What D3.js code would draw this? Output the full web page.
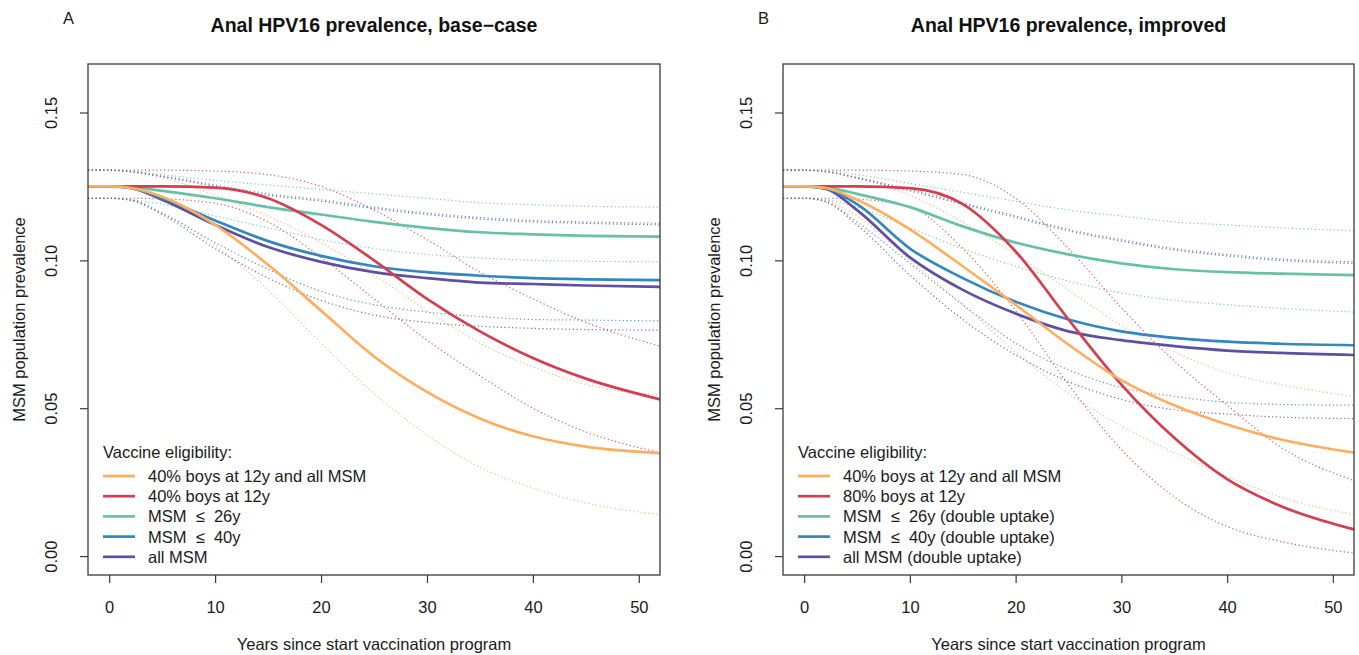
<!DOCTYPE html>
<html>
<head>
<meta charset="utf-8">
<script src="https://cdn.jsdelivr.net/npm/d3@7"></script>
<style>
  body { margin: 0; background: #fff; }
  svg { display: block; font-family: "Liberation Sans", Arial, Helvetica, sans-serif; }
  .tick-label, .axis-title, .legend-text, .panel-letter { font-size: 16.5px; fill: #1a1a1a; }
  .panel-title { font-size: 19.5px; font-weight: bold; fill: #111; }
  .frame { fill: none; stroke: #3a3a3a; stroke-width: 1.3; }
  .tick line { stroke: #3a3a3a; stroke-width: 1.2; }
  .band-line { fill: none; stroke-width: 1.2; stroke-dasharray: 1.2 2.6; stroke-opacity: 0.85; }
  .mid-line { fill: none; stroke-width: 2.7; }
</style>
</head>
<body>
<div id="chart"></div>
<script>
// time grid (years since start) and axis ticks
const years = [-2, 0, 2, 5, 10, 15, 20, 25, 30, 35, 40, 45, 52];
const xTicks = [0, 10, 20, 30, 40, 50];
const yTicks = [0, 0.05, 0.1, 0.15];

// series order: orange, red, green, blue, purple
const baseLabels = [
  "40% boys at 12y and all MSM",
  "40% boys at 12y",
  "MSM  \u2264  26y",
  "MSM  \u2264  40y",
  "all MSM",
];
const improvedLabels = [
  "40% boys at 12y and all MSM",
  "80% boys at 12y",
  "MSM  \u2264  26y (double uptake)",
  "MSM  \u2264  40y (double uptake)",
  "all MSM (double uptake)",
];

const baseMid = [
  [0.125, 0.125, 0.1245, 0.1215, 0.112, 0.0985, 0.083, 0.0675, 0.0555, 0.0465, 0.0405, 0.037, 0.0348],
  [0.125, 0.125, 0.125, 0.125, 0.1246, 0.121, 0.112, 0.100, 0.087, 0.076, 0.067, 0.060, 0.053],
  [0.125, 0.125, 0.1248, 0.1235, 0.121, 0.118, 0.1155, 0.113, 0.111, 0.1095, 0.1088, 0.1083, 0.108],
  [0.125, 0.125, 0.1245, 0.121, 0.1135, 0.1065, 0.1015, 0.098, 0.096, 0.0948, 0.094, 0.0936, 0.0933],
  [0.125, 0.125, 0.1245, 0.1205, 0.112, 0.1045, 0.0995, 0.096, 0.094, 0.0925, 0.092, 0.0915, 0.091],
];
const baseUpper = [
  [0.1305, 0.1305, 0.130, 0.128, 0.122, 0.115, 0.106, 0.095, 0.083, 0.072, 0.064, 0.058, 0.0545],
  [0.1305, 0.1305, 0.1305, 0.1305, 0.1302, 0.129, 0.125, 0.117, 0.107, 0.096, 0.087, 0.079, 0.071],
  [0.1305, 0.1305, 0.1303, 0.129, 0.127, 0.1255, 0.124, 0.1225, 0.121, 0.1195, 0.1188, 0.1183, 0.118],
  [0.1305, 0.1305, 0.130, 0.1285, 0.1255, 0.1225, 0.1205, 0.118, 0.116, 0.1145, 0.1135, 0.113, 0.1125],
  [0.1305, 0.1305, 0.130, 0.1283, 0.125, 0.122, 0.120, 0.1175, 0.1155, 0.114, 0.113, 0.1125, 0.112],
];
const baseLower = [
  [0.121, 0.121, 0.1205, 0.116, 0.105, 0.090, 0.072, 0.055, 0.041, 0.030, 0.023, 0.018, 0.014],
  [0.121, 0.121, 0.121, 0.1208, 0.1193, 0.113, 0.101, 0.087, 0.073, 0.061, 0.050, 0.042, 0.035],
  [0.121, 0.121, 0.1205, 0.119, 0.115, 0.111, 0.107, 0.104, 0.102, 0.1008, 0.100, 0.0997, 0.0995],
  [0.121, 0.121, 0.1205, 0.116, 0.106, 0.097, 0.0895, 0.085, 0.0825, 0.081, 0.080, 0.0798, 0.0795],
  [0.121, 0.121, 0.1203, 0.1155, 0.104, 0.094, 0.0865, 0.0815, 0.079, 0.0777, 0.077, 0.0766, 0.0764],
];

const improvedMid = [
  [0.125, 0.125, 0.1245, 0.1205, 0.1105, 0.098, 0.085, 0.0715, 0.0595, 0.051, 0.0445, 0.0395, 0.035],
  [0.125, 0.125, 0.125, 0.125, 0.1244, 0.119, 0.103, 0.080, 0.058, 0.040, 0.026, 0.017, 0.009],
  [0.125, 0.125, 0.1247, 0.1225, 0.118, 0.1115, 0.106, 0.102, 0.099, 0.097, 0.096, 0.0955, 0.095],
  [0.125, 0.125, 0.1243, 0.119, 0.104, 0.094, 0.086, 0.080, 0.076, 0.0738, 0.0725, 0.0718, 0.0713],
  [0.125, 0.125, 0.1242, 0.117, 0.101, 0.090, 0.082, 0.076, 0.073, 0.071, 0.0695, 0.0687, 0.068],
];
const improvedUpper = [
  [0.1305, 0.1305, 0.130, 0.128, 0.122, 0.113, 0.102, 0.090, 0.078, 0.069, 0.062, 0.058, 0.054],
  [0.1305, 0.1305, 0.1305, 0.1305, 0.1302, 0.129, 0.121, 0.104, 0.084, 0.066, 0.051, 0.037, 0.0255],
  [0.1305, 0.1305, 0.1303, 0.129, 0.126, 0.123, 0.120, 0.117, 0.115, 0.113, 0.112, 0.111, 0.110],
  [0.1305, 0.1305, 0.130, 0.128, 0.124, 0.1195, 0.115, 0.1105, 0.107, 0.104, 0.102, 0.1005, 0.0995],
  [0.1305, 0.1305, 0.130, 0.1278, 0.1235, 0.119, 0.1145, 0.110, 0.1065, 0.1035, 0.1015, 0.100, 0.099],
];
const improvedLower = [
  [0.121, 0.121, 0.1203, 0.115, 0.100, 0.085, 0.069, 0.055, 0.044, 0.035, 0.027, 0.020, 0.014],
  [0.121, 0.121, 0.121, 0.1207, 0.118, 0.104, 0.083, 0.058, 0.036, 0.020, 0.010, 0.005, 0.001],
  [0.121, 0.121, 0.1205, 0.118, 0.111, 0.104, 0.098, 0.093, 0.089, 0.0865, 0.085, 0.0838, 0.0825],
  [0.121, 0.121, 0.120, 0.113, 0.099, 0.085, 0.072, 0.063, 0.057, 0.054, 0.052, 0.0513, 0.051],
  [0.121, 0.121, 0.1198, 0.112, 0.095, 0.080, 0.068, 0.059, 0.053, 0.0495, 0.048, 0.047, 0.0465],
];

const colors = ["#FDAE61", "#D53E4F", "#66C2A5", "#3288BD", "#5E4FA2"];

class PrevalencePanel {
  constructor({ svg, id, left, right, top, bottom, letter, title, labels, mid, upper, lower }) {
    this.svg = svg;
    this.id = id;
    this.box = { left, right, top, bottom };
    this.letter = letter;
    this.title = title;
    this.labels = labels;
    this.mid = mid;
    this.upper = upper;
    this.lower = lower;
    this.render();
  }

  render() {
    const { left, right, top, bottom } = this.box;
    const x = d3.scaleLinear().domain([-2, 52]).range([left, right]);
    // R style 4% padding around 0..0.16
    const y = d3.scaleLinear().domain([-0.0064, 0.1664]).range([bottom, top]);
    // monotone: no bumps where a flat start meets the drop
    const line = d3
      .line()
      .x((d) => x(d[0]))
      .y((d) => y(d[1]))
      .curve(d3.curveMonotoneX);
    const toPts = (vals) => vals.map((v, i) => [years[i], v]);

    const g = this.svg.append("g");

    g.append("clipPath")
      .attr("id", `clip-${this.id}`)
      .append("rect")
      .attr("x", left)
      .attr("y", top)
      .attr("width", right - left)
      .attr("height", bottom - top);

    const plot = g.append("g").attr("clip-path", `url(#clip-${this.id})`);

    // dotted uncertainty bounds
    const bands = [];
    this.upper.forEach((vals, i) => bands.push({ vals, i }));
    this.lower.forEach((vals, i) => bands.push({ vals, i }));
    plot
      .selectAll(".band-line")
      .data(bands)
      .join("path")
      .attr("class", "band-line")
      .attr("stroke", (d) => colors[d.i])
      .attr("d", (d) => line(toPts(d.vals)));

    // main lines, orange drawn last
    const mids = this.mid.map((vals, i) => ({ vals, i })).reverse();
    plot
      .selectAll(".mid-line")
      .data(mids)
      .join("path")
      .attr("class", "mid-line")
      .attr("stroke", (d) => colors[d.i])
      .attr("d", (d) => line(toPts(d.vals)));

    g.append("rect")
      .attr("class", "frame")
      .attr("x", left)
      .attr("y", top)
      .attr("width", right - left)
      .attr("height", bottom - top);

    // x axis
    const gx = g
      .append("g")
      .attr("transform", `translate(0,${bottom})`)
      .call(d3.axisBottom(x).tickValues(xTicks).tickSize(8).tickFormat(d3.format("d")));
    gx.select(".domain").remove();
    gx.selectAll("text")
      .attr("class", "tick-label")
      .attr("fill", null)
      .attr("y", 38)
      .attr("dy", null);

    // y axis, labels parallel to the axis
    const gy = g
      .append("g")
      .attr("transform", `translate(${left},0)`)
      .call(d3.axisLeft(y).tickValues(yTicks).tickSize(8).tickFormat(d3.format(".2f")));
    gy.select(".domain").remove();
    gy.selectAll("text")
      .attr("class", "tick-label")
      .attr("fill", null)
      .attr("transform", "rotate(-90)")
      .attr("x", 0)
      .attr("y", -31)
      .attr("dy", null)
      .attr("text-anchor", "middle");

    gx.attr("font-size", null).attr("font-family", null);
    gy.attr("font-size", null).attr("font-family", null);

    g.append("text")
      .attr("class", "axis-title")
      .attr("text-anchor", "middle")
      .attr("transform", `translate(${left - 63},${(top + bottom) / 2}) rotate(-90)`)
      .text("MSM population prevalence");

    g.append("text")
      .attr("class", "axis-title")
      .attr("text-anchor", "middle")
      .attr("x", (left + right) / 2)
      .attr("y", 650)
      .text("Years since start vaccination program");

    g.append("text")
      .attr("class", "panel-title")
      .attr("text-anchor", "middle")
      .attr("x", (left + right) / 2)
      .attr("y", 32)
      .text(this.title);

    g.append("text")
      .attr("class", "panel-letter")
      .attr("x", left - 25)
      .attr("y", 24)
      .text(this.letter);

    // legend
    const lg = g.append("g").attr("transform", `translate(${left + 15},0)`);
    lg.append("text")
      .attr("class", "legend-text")
      .attr("x", 0)
      .attr("y", 458)
      .text("Vaccine eligibility:");
    const row = lg
      .selectAll(".legend-row")
      .data(this.labels)
      .join("g")
      .attr("class", "legend-row")
      .attr("transform", (d, i) => `translate(0,${476 + i * 20.2})`);
    row.append("line")
      .attr("x1", 0)
      .attr("x2", 32)
      .attr("stroke", (d, i) => colors[i])
      .attr("stroke-width", 2.7);
    row.append("text")
      .attr("class", "legend-text")
      .attr("x", 45)
      .attr("dy", "0.36em")
      .style("white-space", "pre")
      .attr("xml:space", "preserve")
      .text((d) => d);
  }
}

const svg = d3
  .select("#chart")
  .append("svg")
  .attr("width", 1359)
  .attr("height", 655);

new PrevalencePanel({
  svg,
  id: "a",
  left: 88,
  right: 660,
  top: 64,
  bottom: 575,
  letter: "A",
  title: "Anal HPV16 prevalence, base\u2212case",
  labels: baseLabels,
  mid: baseMid,
  upper: baseUpper,
  lower: baseLower,
});

new PrevalencePanel({
  svg,
  id: "b",
  left: 783,
  right: 1354,
  top: 64,
  bottom: 575,
  letter: "B",
  title: "Anal HPV16 prevalence, improved",
  labels: improvedLabels,
  mid: improvedMid,
  upper: improvedUpper,
  lower: improvedLower,
});
</script>
</body>
</html>
